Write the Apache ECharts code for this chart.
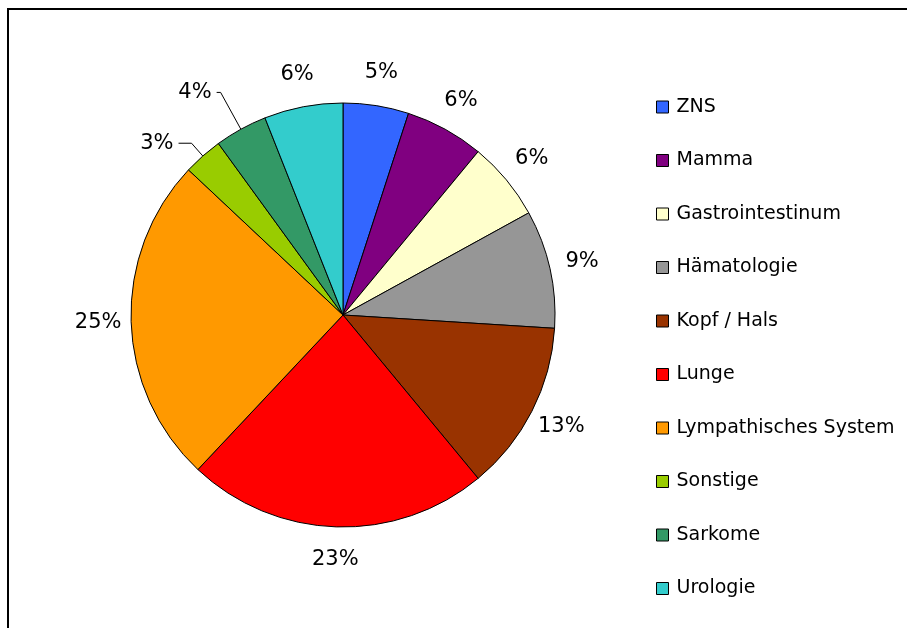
<!DOCTYPE html>
<html>
<head>
<meta charset="utf-8">
<title>Tumorentitäten</title>
<script src="https://cdn.jsdelivr.net/npm/echarts@6/dist/echarts.min.js"></script>
<style>
  html, body { margin: 0; padding: 0; background: #fff; }
  #chart { width: 907px; height: 628px; }
</style>
</head>
<body>
<div id="chart"></div>
<script>
// Tumour sites, clockwise from 12 o'clock
const categories = ['ZNS', 'Mamma', 'Gastrointestinum', 'Hämatologie', 'Kopf / Hals',
  'Lunge', 'Lympathisches System', 'Sonstige', 'Sarkome', 'Urologie'];
// Share of cases in percent
const shares = [5, 6, 6, 9, 13, 23, 25, 3, 4, 6];
const colors = ['#3366FF', '#800080', '#FFFFCC', '#969696', '#993300',
  '#FF0000', '#FF9900', '#99CC00', '#339966', '#33CCCC'];
// Small slices get a leader line instead of a floating label
const leaderLines = { 'Sonstige': { length: 17, length2: 13 }, 'Sarkome': { length: 42, length2: 4 } };

const FONT = 'DejaVu Sans';
const CENTER = [343, 315];

const chart = echarts.init(document.getElementById('chart'), null, { renderer: 'canvas' });

const mainData = categories.map((name, i) => {
  const item = { name, value: shares[i], itemStyle: { color: colors[i] } };
  if (leaderLines[name]) {
    item.label = { show: true };
    item.labelLine = { show: true, length: leaderLines[name].length, length2: leaderLines[name].length2 };
  }
  return item;
});

// Transparent ring around the pie that carries the percentage labels
const ringData = categories.map((name, i) => ({
  value: shares[i],
  label: { show: !leaderLines[name] }
}));

chart.setOption({
  animation: false,
  backgroundColor: '#ffffff',
  graphic: [{
    type: 'polyline',
    shape: { points: [[8, 628], [8, 9], [907, 9]] },
    style: { stroke: '#000', lineWidth: 2, fill: null },
    silent: true
  }],
  legend: {
    orient: 'vertical',
    left: 656,
    top: 97,
    padding: 0,
    itemWidth: 12,
    itemHeight: 12,
    itemGap: 33.5,
    icon: 'rect',
    selectedMode: false,
    data: categories,
    itemStyle: { borderColor: '#000', borderWidth: 1 },
    textStyle: { fontFamily: FONT, fontSize: 19, color: '#000', lineHeight: 20, padding: [0, 0, 0, 3] }
  },
  series: [
    {
      type: 'pie',
      center: CENTER,
      radius: 212,
      startAngle: 90,
      clockwise: true,
      avoidLabelOverlap: false,
      silent: true,
      data: mainData,
      itemStyle: { borderColor: '#000', borderWidth: 1 },
      label: {
        show: false,
        position: 'outside',
        formatter: '{c}%',
        fontFamily: FONT,
        fontSize: 21,
        color: '#000',
        distanceToLabelLine: 5
      },
      labelLine: { show: false, lineStyle: { color: '#000', width: 1 } },
      emphasis: { disabled: true }
    },
    {
      type: 'pie',
      center: CENTER,
      radius: [220, 264],
      startAngle: 90,
      clockwise: true,
      silent: true,
      data: ringData,
      itemStyle: { color: 'rgba(0,0,0,0)', borderWidth: 0 },
      label: {
        position: 'inside',
        formatter: '{c}%',
        fontFamily: FONT,
        fontSize: 21,
        color: '#000'
      },
      labelLine: { show: false },
      emphasis: { disabled: true }
    }
  ]
});
</script>
</body>
</html>
